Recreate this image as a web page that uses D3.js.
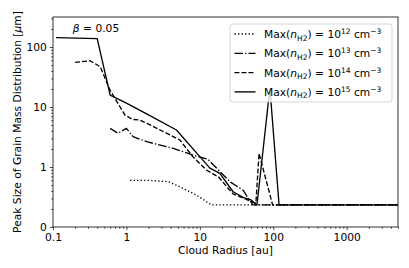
<!DOCTYPE html>
<html>
<head>
<meta charset="utf-8">
<script src="https://cdn.jsdelivr.net/npm/d3@7"></script>
<style>
  body { margin: 0; background: #fff; }
  text { font-family: "DejaVu Sans", sans-serif; }
</style>
</head>
<body>
<div id="chart"></div>
<script>
// values
const seriesNames = ['12', '13', '14', '15'];

const radius12 = [1.12, 2, 3.7, 5.3, 9, 14.4, 5000];
const peak12 = [0.6, 0.6, 0.57, 0.47, 0.34, 0.233, 0.233];

const radius13 = [0.6, 0.77, 1.0, 1.23, 1.89, 4.33, 8.1, 12.9, 25.6, 38.8, 47.6, 53, 5000];
const peak13 = [4.4, 3.65, 4.4, 3.2, 2.64, 2.05, 1.58, 1.34, 0.57, 0.41, 0.28, 0.233, 0.233];

const radius14 = [0.2, 0.32, 0.44, 0.6, 0.95, 1.2, 1.5, 1.9, 5.35, 8, 12.3, 18, 28, 40, 52, 58, 64, 98, 5000];
const peak14 = [55.6, 59, 46.8, 19, 7.4, 6.2, 6.1, 5.35, 2.82, 1.49, 0.89, 0.68, 0.36, 0.3, 0.26, 0.25, 1.69, 0.233, 0.233];

const radius15 = [0.11, 0.4, 0.6, 1, 2, 4.8, 10, 13.7, 18.7, 28.4, 38.8, 50.5, 60, 90, 120, 5000];
const peak15 = [143, 138, 15.8, 11.6, 7.4, 4.14, 1.49, 0.96, 0.785, 0.387, 0.313, 0.28, 0.233, 20.7, 0.233, 0.233];

const xTickValues = [0.1, 1, 10, 100, 1000];
const yTickValues = [0.1, 1, 10, 100];
const yTickLabels = ['0', '1', '10', '100'];

const width = 409;
const height = 268;
const margin = { top: 17, right: 11, bottom: 41, left: 53 };
const plotW = width - margin.left - margin.right;
const plotH = height - margin.top - margin.bottom;
const fontSize = 10.7;

const svg = d3.select('#chart')
  .append('svg')
  .attr('width', width)
  .attr('height', height);

const g = svg.append('g')
  .attr('transform', `translate(${margin.left},${margin.top})`);

const x = d3.scaleLog()
  .domain([0.1, 5000])
  .range([0, plotW]);

const y = d3.scaleLog()
  .domain([0.1, Math.pow(10, 2.5)])
  .range([plotH, 0]);

// minor ticks, 2..9 in every decade
const minorX = [];
for (let e = -1; e <= 3; e++) {
  for (let k = 2; k <= 9; k++) {
    const v = k * Math.pow(10, e);
    if (v <= 5000) minorX.push(v);
  }
}
const minorY = [];
for (let e = -1; e <= 2; e++) {
  for (let k = 2; k <= 9; k++) {
    const v = k * Math.pow(10, e);
    if (v <= Math.pow(10, 2.5)) minorY.push(v);
  }
}

g.append('g')
  .attr('transform', `translate(0,${plotH})`)
  .call(d3.axisBottom(x).tickValues(minorX).tickSize(1.8).tickFormat(''))
  .call(a => a.select('.domain').remove());

g.append('g')
  .call(d3.axisLeft(y).tickValues(minorY).tickSize(1.8).tickFormat(''))
  .call(a => a.select('.domain').remove());

const xAxis = g.append('g')
  .attr('transform', `translate(0,${plotH})`)
  .call(d3.axisBottom(x).tickValues(xTickValues).tickSize(3.1).tickPadding(3)
    .tickFormat(d => d3.format('~g')(d)));

const yAxis = g.append('g')
  .call(d3.axisLeft(y).tickValues(yTickValues).tickSize(3.1).tickPadding(3)
    .tickFormat((d, i) => yTickLabels[i]));

[xAxis, yAxis].forEach(a => {
  a.selectAll('text').attr('font-size', fontSize).attr('fill', '#000')
    .style('font-family', '"DejaVu Sans", sans-serif');
  a.selectAll('line').attr('stroke-width', 0.7);
  a.select('.domain').remove();
});
g.selectAll('.tick line').attr('stroke', '#000').attr('stroke-width', 0.7);

// frame
g.append('rect')
  .attr('width', plotW)
  .attr('height', plotH)
  .attr('fill', 'none')
  .attr('stroke', '#000')
  .attr('stroke-width', 0.8);

const series = [
  { name: seriesNames[0], xs: radius12, ys: peak12, dash: '1.33,2.2' },
  { name: seriesNames[1], xs: radius13, ys: peak13, dash: '8.5,2.1,1.3,2.1' },
  { name: seriesNames[2], xs: radius14, ys: peak14, dash: '4.9,2.1' },
  { name: seriesNames[3], xs: radius15, ys: peak15, dash: null }
];

const line = d3.line()
  .x(d => x(d[0]))
  .y(d => y(d[1]));

const clip = svg.append('clipPath').attr('id', 'plotclip');
clip.append('rect').attr('width', plotW).attr('height', plotH);

const lines = g.append('g').attr('clip-path', 'url(#plotclip)');
series.forEach(s => {
  lines.append('path')
    .datum(d3.zip(s.xs, s.ys))
    .attr('d', line)
    .attr('fill', 'none')
    .attr('stroke', '#000')
    .attr('stroke-width', 1.33)
    .attr('stroke-linejoin', 'round')
    .attr('stroke-dasharray', s.dash);
});

// beta annotation
const beta = g.append('text')
  .attr('x', 43)
  .attr('y', 15)
  .attr('text-anchor', 'middle')
  .attr('font-size', fontSize);
beta.append('tspan').attr('font-style', 'italic').text('β');
beta.append('tspan').text(' = 0.05');

// legend
const leg = svg.append('g').attr('transform', 'translate(230,24)');
leg.append('rect')
  .attr('width', 162)
  .attr('height', 78)
  .attr('rx', 3)
  .attr('fill', '#fff')
  .attr('fill-opacity', 0.8)
  .attr('stroke', '#ccc')
  .attr('stroke-width', 0.8);

series.forEach((s, i) => {
  const cy = 10 + i * 19.3;
  leg.append('line')
    .attr('x1', 4.5).attr('x2', 25.5)
    .attr('y1', cy).attr('y2', cy)
    .attr('stroke', '#000')
    .attr('stroke-width', 1.33)
    .attr('stroke-dasharray', s.dash);
  const t = leg.append('text')
    .attr('x', 34)
    .attr('y', cy + 4)
    .attr('font-size', fontSize);
  t.append('tspan').text('Max(');
  t.append('tspan').attr('font-style', 'italic').text('n');
  t.append('tspan').attr('font-size', 7.5).attr('dy', 2.5).text('H2');
  t.append('tspan').attr('dy', -2.5).text(') = 10');
  t.append('tspan').attr('font-size', 7.5).attr('dy', -4).text(s.name);
  t.append('tspan').attr('dy', 4).text(' cm');
  t.append('tspan').attr('font-size', 7.5).attr('dy', -4).text('−3');
});

// axis labels
svg.append('text')
  .attr('x', margin.left + plotW / 2)
  .attr('y', 254)
  .attr('text-anchor', 'middle')
  .attr('font-size', fontSize)
  .text('Cloud Radius [au]');

const yl = svg.append('text')
  .attr('transform', `translate(21,${margin.top + plotH / 2}) rotate(-90)`)
  .attr('text-anchor', 'middle')
  .attr('font-size', fontSize);
yl.append('tspan').text('Peak Size of Grain Mass Distribution [');
yl.append('tspan').attr('font-style', 'italic').text('μ');
yl.append('tspan').text('m]');
</script>
</body>
</html>
